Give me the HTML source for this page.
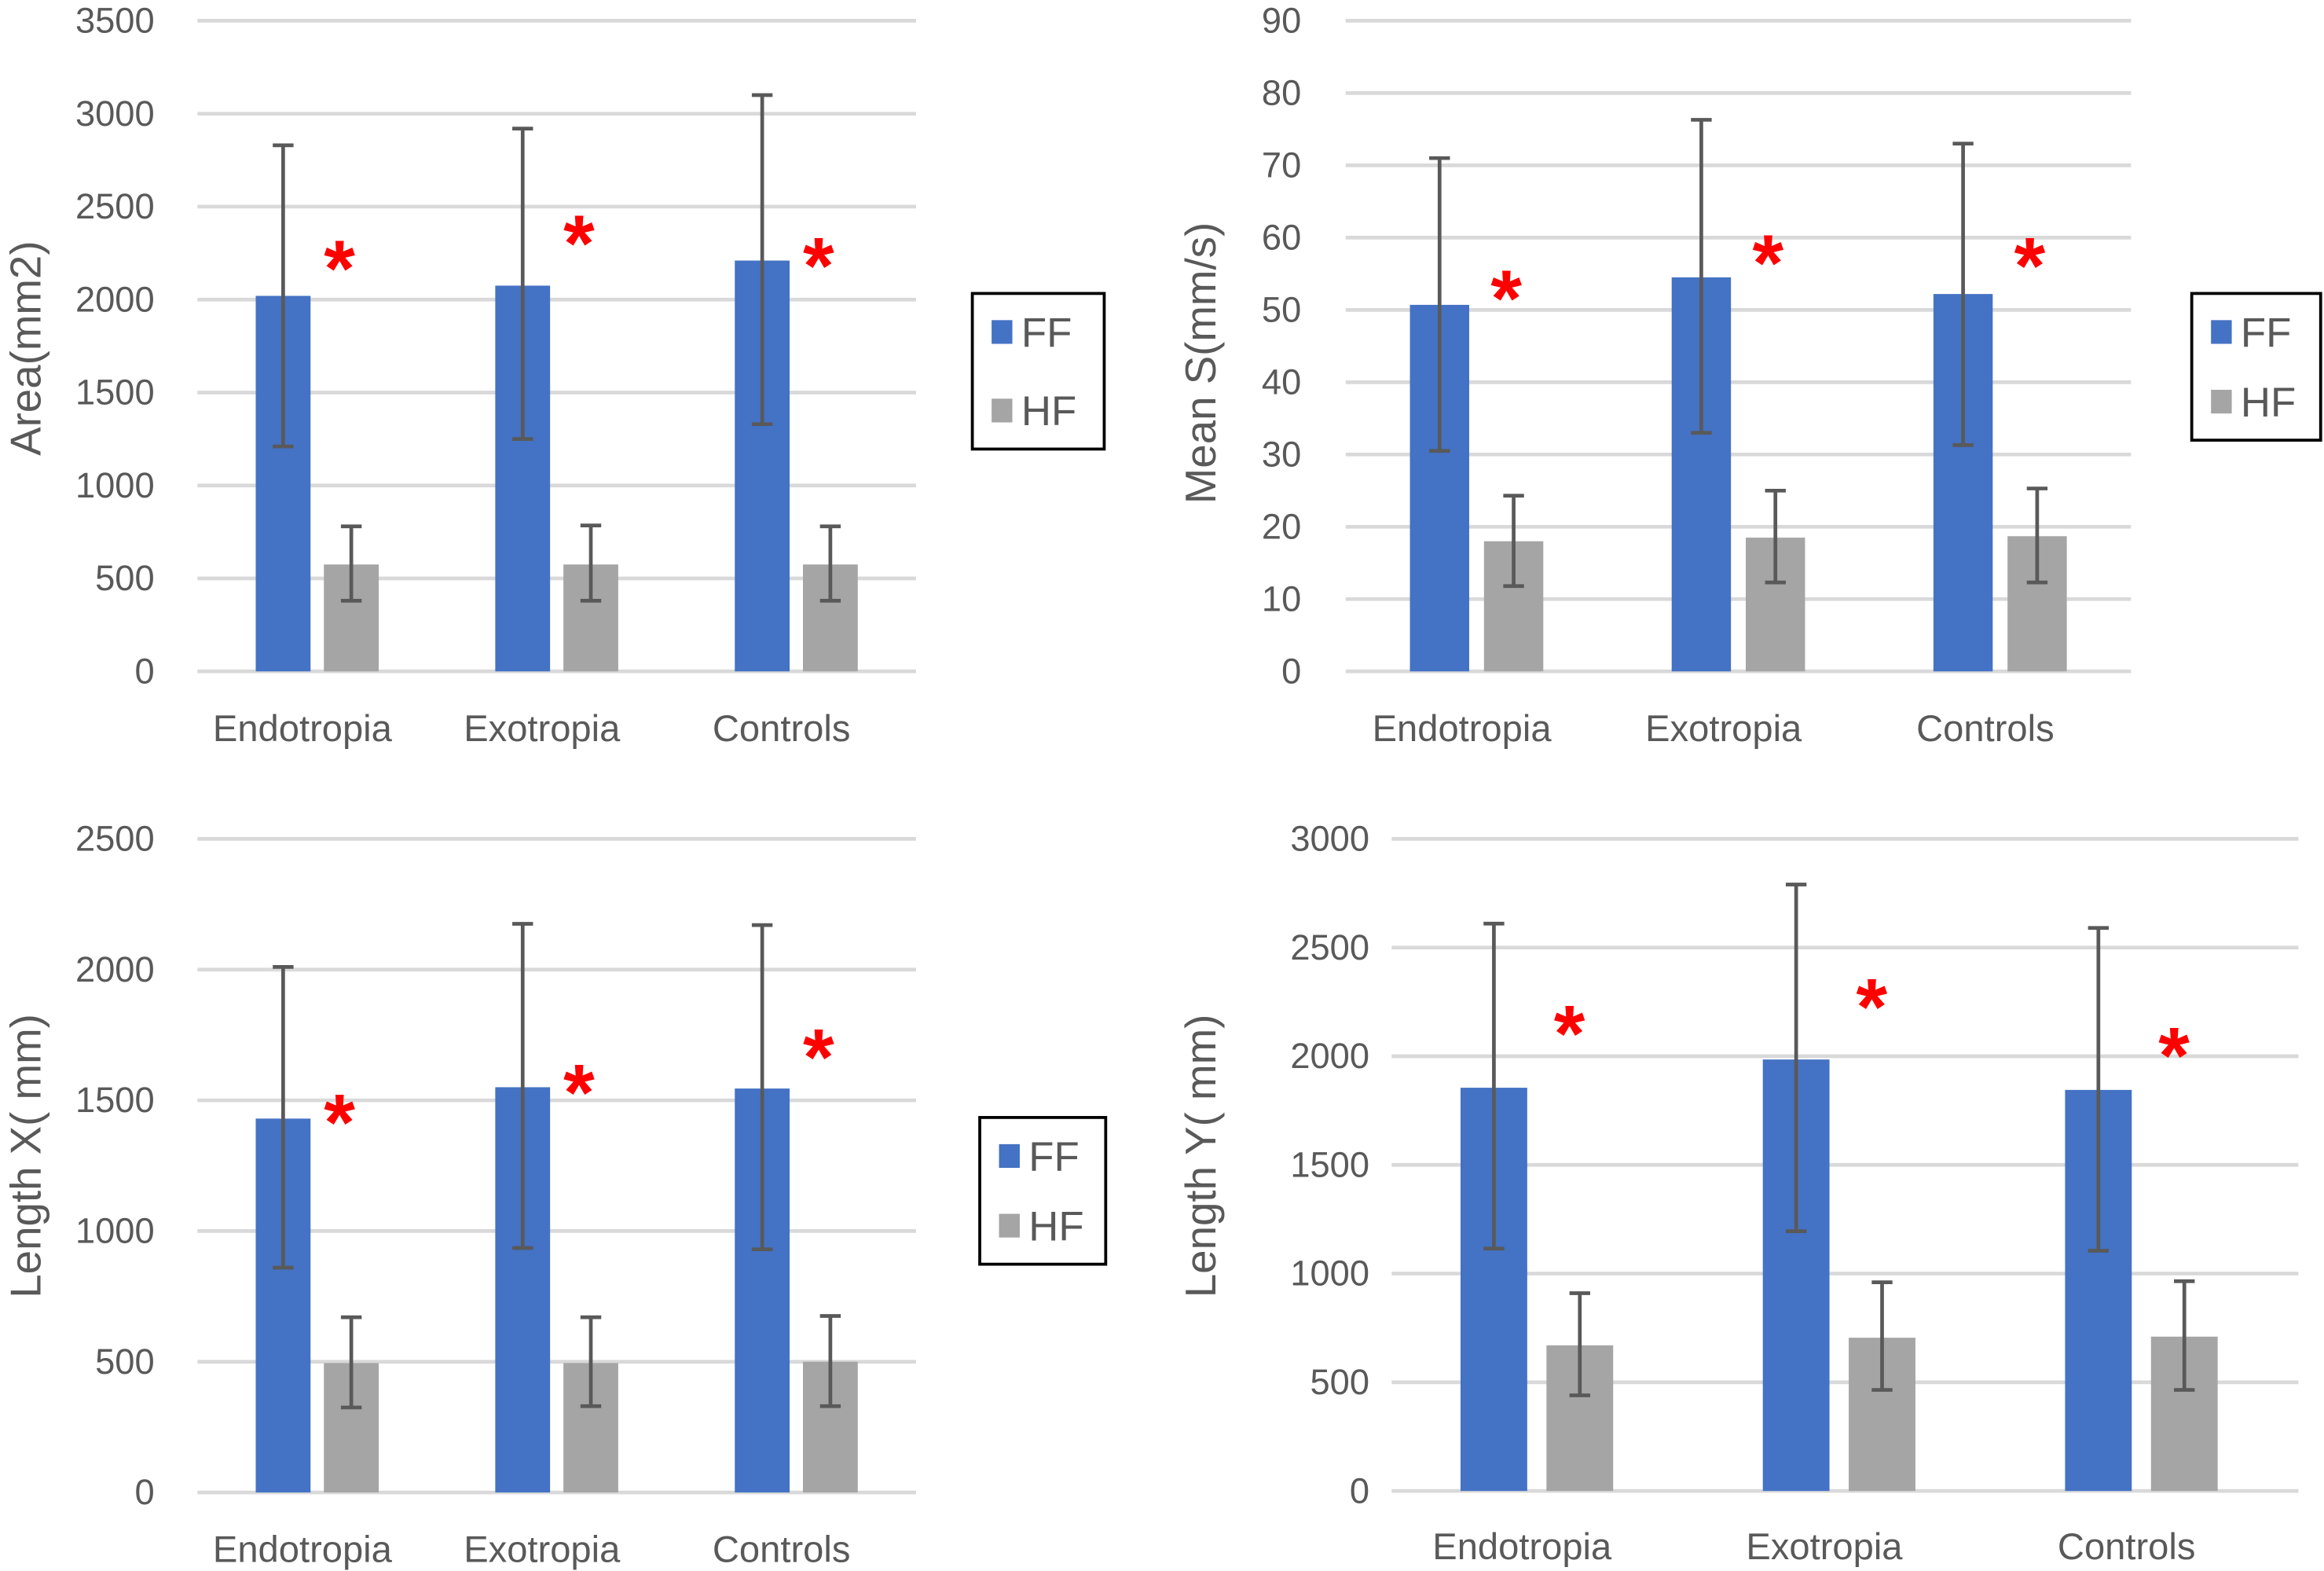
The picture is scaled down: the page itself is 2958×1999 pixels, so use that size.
<!DOCTYPE html>
<html><head><meta charset="utf-8"><style>
html,body{margin:0;padding:0;background:#fff;}
svg{display:block;font-family:"Liberation Sans",sans-serif;}
</style></head><body>
<svg id="fig" width="2958" height="1999" viewBox="0 0 1568 1060" xmlns="http://www.w3.org/2000/svg"></svg>
<script>
const categories = ["Endotropia","Exotropia","Controls"];
// Chart A: Area
const areaFF = [2020, 2075, 2210];
const areaFFLow = [1210, 1250, 1330];
const areaFFHigh = [2830, 2920, 3100];
const areaHF = [575, 575, 575];
const areaHFLow = [380, 380, 380];
const areaHFHigh = [780, 785, 780];
const areaStars = [2240, 2376, 2256];
const areaTicks = [0,500,1000,1500,2000,2500,3000,3500];
// Chart B: Mean S
const speedFF = [50.7, 54.5, 52.2];
const speedFFLow = [30.5, 33, 31.3];
const speedFFHigh = [71, 76.3, 73];
const speedHF = [18, 18.5, 18.7];
const speedHFLow = [11.8, 12.3, 12.3];
const speedHFHigh = [24.3, 25, 25.3];
const speedStars = [53.5, 58.4, 58];
const speedTicks = [0,10,20,30,40,50,60,70,80,90];
// Chart C: Length X
const lenXFF = [1430, 1550, 1545];
const lenXFFLow = [860, 935, 930];
const lenXFFHigh = [2010, 2175, 2170];
const lenXHF = [495, 495, 500];
const lenXHFLow = [325, 330, 330];
const lenXHFHigh = [670, 670, 675];
const lenXStars = [1468, 1582, 1718];
const lenXTicks = [0,500,1000,1500,2000,2500];
// Chart D: Length Y
const lenYFF = [1855, 1985, 1845];
const lenYFFLow = [1115, 1195, 1105];
const lenYFFHigh = [2610, 2790, 2590];
const lenYHF = [670, 705, 710];
const lenYHFLow = [440, 465, 465];
const lenYHFHigh = [910, 960, 965];
const lenYStars = [2168, 2290, 2066];
const lenYTicks = [0,500,1000,1500,2000,2500,3000];

const NS="http://www.w3.org/2000/svg";
const svg=document.getElementById('fig');
function mk(tag,attrs,parent,text){const e=document.createElementNS(NS,tag);for(const k in attrs)e.setAttribute(k,attrs[k]);if(text!==undefined)e.textContent=text;(parent||svg).appendChild(e);return e;}

function chart(o){
  const g=mk('g',{});
  
  
  const max=o.ticks[o.ticks.length-1];
  const y=v=>o.y0-(v/max)*(o.y0-o.yTop);
  const gw=(o.x1-o.x0)/categories.length;
  const cx=i=>o.x0+o.shift+gw*(i+0.5);
  o.ticks.forEach(t=>{
    const l=mk('line',{x1:o.x0,x2:o.x1,y1:y(t),y2:y(t),stroke:'#d9d9d9','stroke-width':2.5},g);
    
    
    const tx=mk('text',{x:o.tickX,y:y(t)+8,'text-anchor':'end','font-size':24,fill:'#595959'},g,String(t));
    
    
  });
  const series=[[o.ff,o.ffLo,o.ffHi,'#4472c4',-1],[o.hf,o.hfLo,o.hfHi,'#a5a5a5',1]];
  categories.forEach((c,i)=>{
    series.forEach((s,si)=>{
      const bx=cx(i)+s[4]*(o.gap/2)+(s[4]<0?-o.bw:0);
      const r=mk('rect',{x:bx,y:y(s[0][i]),width:o.bw,height:y(0)-y(s[0][i]),fill:s[3]},g);
      
      
      const ex=bx+o.bw/2;
      const eg=mk('g',{stroke:'#595959','stroke-width':2.5},g);
      
      
      mk('line',{x1:ex,x2:ex,y1:y(s[1][i]),y2:y(s[2][i])},eg);
      mk('line',{x1:ex-7,x2:ex+7,y1:y(s[1][i]),y2:y(s[1][i])},eg);
      mk('line',{x1:ex-7,x2:ex+7,y1:y(s[2][i]),y2:y(s[2][i])},eg);
    });
    const st=mk('text',{x:cx(i)+o.starDx,y:y(o.stars[i])+28,'text-anchor':'middle','font-size':54,'font-weight':'bold',fill:'#ff0000'},g,'*');
    
    
    const cl=mk('text',{x:cx(i)-10,y:o.catY,'text-anchor':'middle','font-size':25,fill:'#595959'},g,c);
    
    
  });
  const ttl=mk('text',{x:0,y:0,transform:`translate(${o.titleX},${o.titleY}) rotate(-90)`,'text-anchor':'middle','font-size':29,fill:'#595959'},g,o.title);
  
  
  if(o.legend){
    const L=o.legend;
    const lg=mk('g',{},g);
    
    
    mk('rect',{x:L.x,y:L.y,width:L.w,height:L.h,fill:'#fff',stroke:'#000','stroke-width':2},lg);
    [['FF','#4472c4',L.y+26],['HF','#a5a5a5',L.y+L.h-26]].forEach(e=>{
      const eg=mk('g',{},lg);
      
      
      mk('rect',{x:L.x+13,y:e[2]-8,width:14,height:16,fill:e[1]},eg);
      mk('text',{x:L.x+33,y:e[2]+10,'font-size':28,fill:'#595959'},eg,e[0]);
    });
  }
}

chart({name:'area-chart',x0:133,x1:618,shift:0,yTop:14,y0:453,tickX:104,bw:37,gap:9,catY:500,starDx:15,
  ff:areaFF,ffLo:areaFFLow,ffHi:areaFFHigh,hf:areaHF,hfLo:areaHFLow,hfHi:areaHFHigh,stars:areaStars,ticks:areaTicks,
  title:'Area(mm2)',titleX:27,titleY:235,legend:{x:656,y:198,w:89,h:105}});
chart({name:'mean-speed-chart',x0:908,x1:1438,shift:0,yTop:14,y0:453,tickX:878,bw:40,gap:10,catY:500,starDx:20,
  ff:speedFF,ffLo:speedFFLow,ffHi:speedFFHigh,hf:speedHF,hfLo:speedHFLow,hfHi:speedHFHigh,stars:speedStars,ticks:speedTicks,
  title:'Mean S(mm/s)',titleX:820,titleY:245,legend:{x:1479,y:198,w:87,h:99}});
chart({name:'length-x-chart',x0:133,x1:618,shift:0,yTop:566,y0:1007,tickX:104,bw:37,gap:9,catY:1054,starDx:15,
  ff:lenXFF,ffLo:lenXFFLow,ffHi:lenXFFHigh,hf:lenXHF,hfLo:lenXHFLow,hfHi:lenXHFHigh,stars:lenXStars,ticks:lenXTicks,
  title:'Length X( mm)',titleX:27,titleY:780,legend:{x:661,y:754,w:85,h:99}});
chart({name:'length-y-chart',x0:939,x1:1551,shift:-4,yTop:566,y0:1006,tickX:924,bw:45,gap:13,catY:1052,starDx:22,
  ff:lenYFF,ffLo:lenYFFLow,ffHi:lenYFFHigh,hf:lenYHF,hfLo:lenYHFLow,hfHi:lenYHFHigh,stars:lenYStars,ticks:lenYTicks,
  title:'Length Y( mm)',titleX:820,titleY:780,legend:null});
</script>
</body></html>
